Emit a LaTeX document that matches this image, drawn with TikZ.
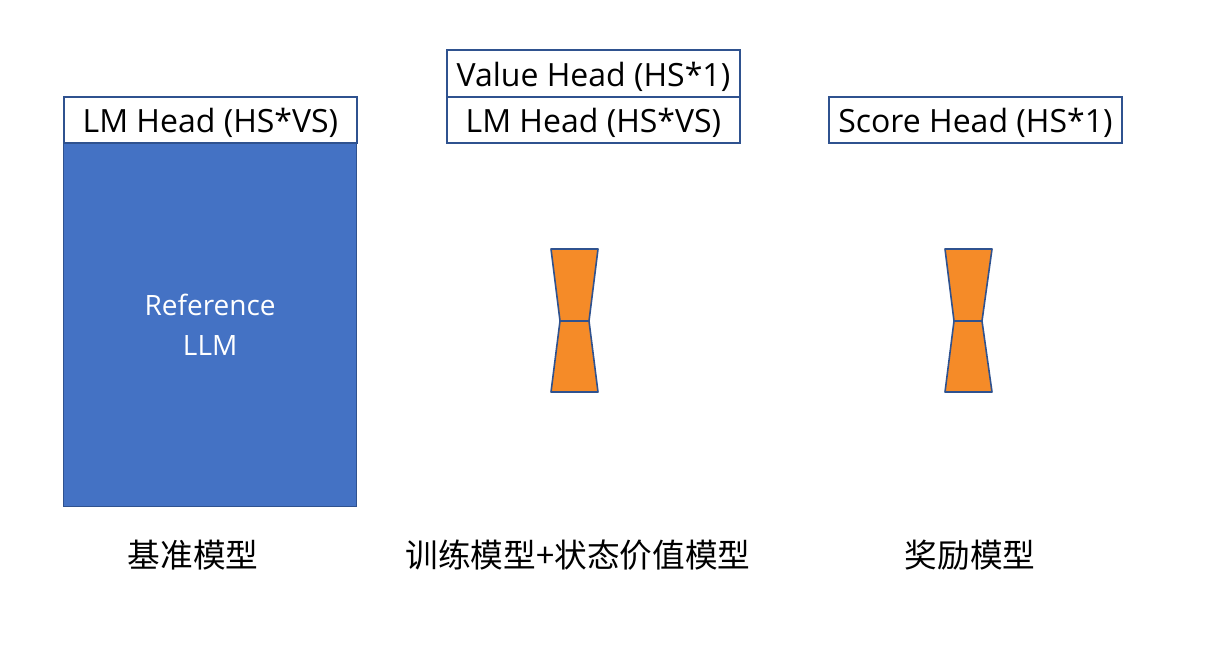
\documentclass[tikz,border=0pt]{standalone}
\usepackage{fontspec}
\setmainfont{Open Sans}
\newfontfamily\cjk{Noto Sans CJK SC}
\definecolor{boxblue}{HTML}{4472C4}
\definecolor{edgeblue}{HTML}{2F528F}
\definecolor{hgorange}{HTML}{F58B28}
\newcommand{\lowertext}[1]{\raisebox{-9.5pt}[0pt][0pt]{#1}}
\begin{document}
\begin{tikzpicture}[x=0.75pt,y=-0.75pt,
  head/.style={draw=edgeblue,line width=1.4pt,fill=white,minimum width=293*0.75pt,minimum height=46.5*0.75pt,inner sep=0pt,font=\fontsize{24}{27}\selectfont},
  body/.style={draw=edgeblue,line width=1pt,fill=boxblue,text=white,minimum width=293*0.75pt,minimum height=364*0.75pt,inner sep=0pt,align=center,font=\fontsize{21}{30}\selectfont},
  hg/.style={draw=edgeblue,line width=1.2pt,fill=hgorange,line join=round},
  captext/.style={font=\cjk\fontsize{24.5}{28}\selectfont}]
\useasboundingbox (0,0) rectangle (1228,656);
% left column
\node[body,anchor=north west] (ref) at (63,142) {Reference\\LLM};
\node[head,anchor=north west] (lm1) at (63,96) {\lowertext{LM Head (HS*VS)}};
% middle column
\node[head,anchor=north west] (lm2) at (446,96) {\lowertext{LM Head (HS*VS)}};
\node[head,anchor=north west] (val) at (446,49.5) {\lowertext{Value Head (HS*1)}};
% right column
\node[head,anchor=north west] (score) at (828,96) {\lowertext{Score Head (HS*1)}};
% hourglass 1
\draw[hg] (551,249) -- (598,249) -- (589,321) -- (560,321) -- cycle;
\draw[hg] (560,321) -- (589,321) -- (598,392) -- (551,392) -- cycle;
% hourglass 2
\draw[hg] (945,249) -- (992,249) -- (982,321) -- (954,321) -- cycle;
\draw[hg] (954,321) -- (982,321) -- (992,392) -- (945,392) -- cycle;
% captions
\node[captext] (c1) at (193,555) {基准模型};
\node[captext] (c2) at (578,555) {训练模型+状态价值模型};
\node[captext] (c3) at (970,555) {奖励模型};
\end{tikzpicture}
\end{document}
